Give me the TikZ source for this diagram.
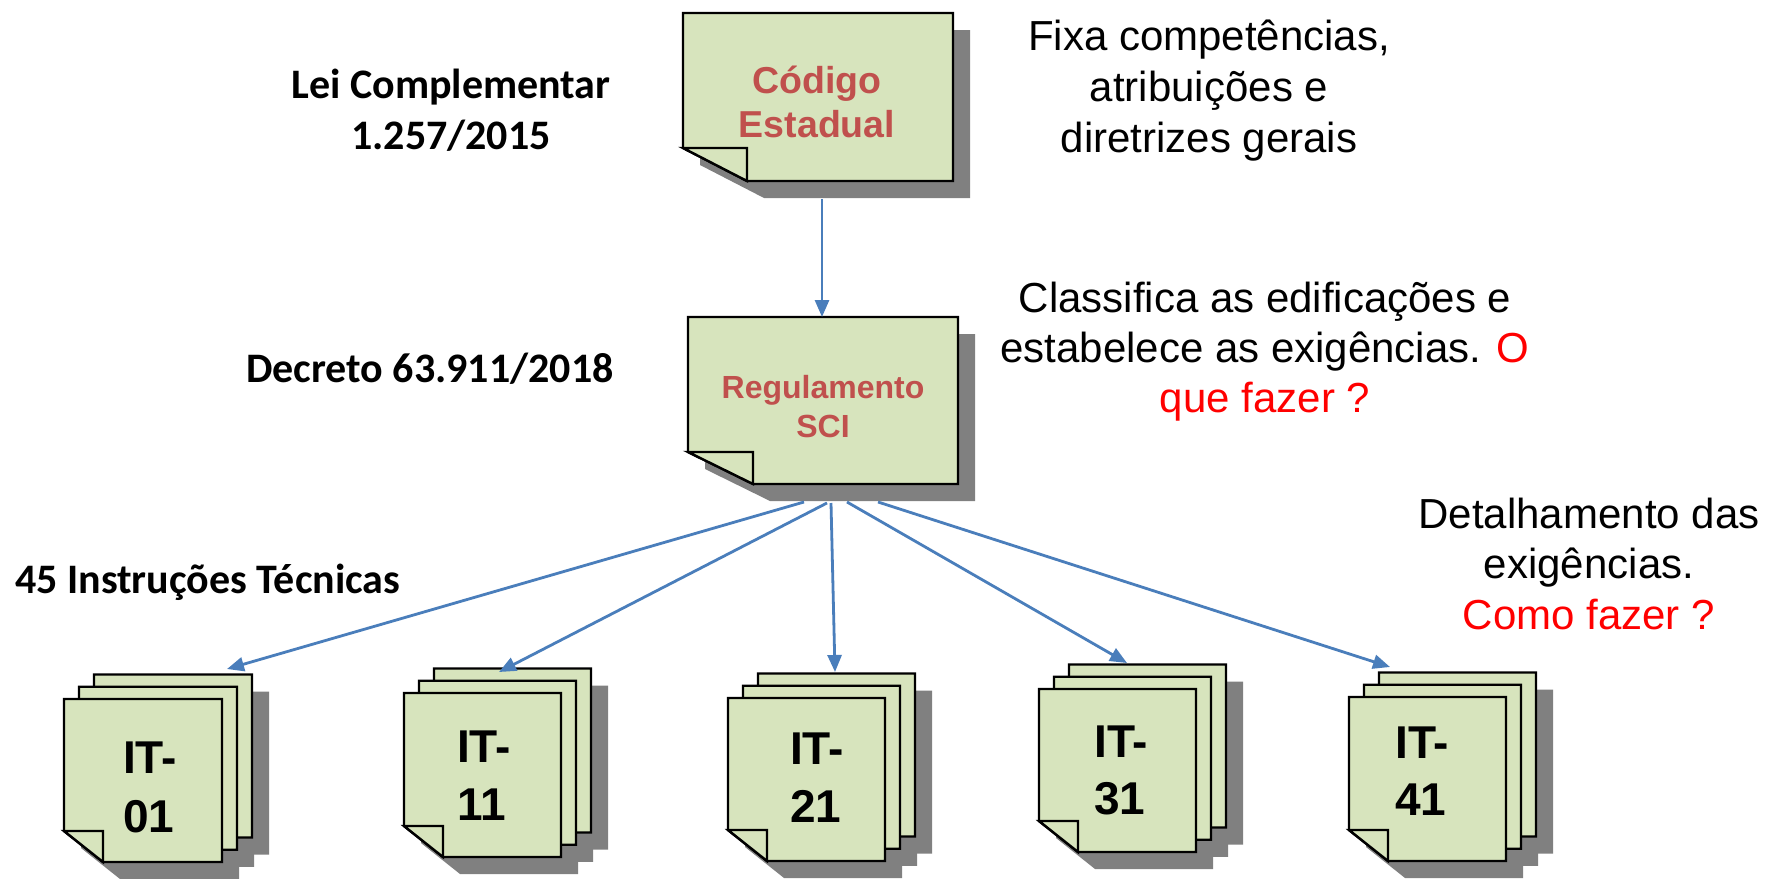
\documentclass[tikz,border=0pt]{standalone}
\usepackage{fontspec}
\setmainfont{Liberation Sans}
\newfontfamily\calib{Carlito}
\usetikzlibrary{arrows.meta}
\definecolor{notegreen}{HTML}{D7E4BD}
\definecolor{shadegray}{HTML}{808080}
\definecolor{linkblue}{HTML}{4A7EBB}
\definecolor{titlered}{HTML}{C0504D}
\definecolor{hotred}{HTML}{FF0000}
% L T R B foldwidth foldheight
\newcommand{\sheetshadow}[6]{%
  \fill[dropshade] ({#1+17},{#2+17}) -- ({#3+17},{#2+17}) -- ({#3+17},{#4+17}) -- ({#1+#5+17},{#4+17}) -- ({#1+17},{#4-#6+17}) -- cycle;}
\newcommand{\sheetbody}[6]{%
  \filldraw[notesheet] ({#1},{#2}) -- ({#3},{#2}) -- ({#3},{#4}) -- ({#1+#5},{#4}) -- ({#1},{#4-#6}) -- cycle;
  \filldraw[notesheet] ({#1},{#4-#6}) -- ({#1+#5},{#4-#6}) -- ({#1+#5},{#4}) -- cycle;}
% L T W H of the front sheet
\newcommand{\itstack}[4]{%
  \foreach \k in {0,1,2}{\sheetshadow{#1+15*\k}{#2-12.25*\k}{#1+15*\k+#3}{#2-12.25*\k+#4}{39}{31}}
  \foreach \k in {2,1,0}{\sheetbody{#1+15*\k}{#2-12.25*\k}{#1+15*\k+#3}{#2-12.25*\k+#4}{39}{31}}}
\begin{document}
\begin{tikzpicture}[x=1pt,y=-1pt,
  notesheet/.style={fill=notegreen, draw=black, line width=2.4pt, line join=miter},
  dropshade/.style={fill=shadegray},
  link/.style={draw=linkblue, line width=2.8pt, -{Triangle[length=17pt,width=14pt]}},
  lbl/.style={font={\calib\bfseries\fontsize{42}{50}\selectfont}, inner sep=0pt},
  note/.style={font={\fontsize{42}{50}\selectfont}, inner sep=0pt, anchor=base},
  boxtxt/.style={text=titlered, inner sep=0pt, anchor=base},
  ittxt/.style={font={\bfseries\fontsize{46}{54}\selectfont}, inner sep=0pt, anchor=base west}]
\useasboundingbox (0,0) rectangle (1769,878);
\fill[white] (0,0) rectangle (1769,878);

% top boxes
\sheetshadow{683}{13}{953}{181}{64}{33}
\sheetbody{683}{13}{953}{181}{64}{33}
\sheetshadow{688}{317}{958}{484}{65}{32}
\sheetbody{688}{317}{958}{484}{65}{32}

% IT stacks
\itstack{64}{699}{158}{163}
\itstack{404}{693}{157}{164}
\itstack{728}{698}{157}{163}
\itstack{1039}{689}{157}{163}
\itstack{1349}{697}{157}{164}

% box texts
\node[boxtxt, font={\bfseries\fontsize{37.5}{44}\selectfont}] (codigo1) at (817,93) {Código};
\node[boxtxt, font={\bfseries\fontsize{37.5}{44}\selectfont}] (codigo2) at (817,137) {Estadual};
\node[boxtxt, font={\bfseries\fontsize{32}{38}\selectfont}] (regul1) at (823,398) {Regulamento};
\node[boxtxt, font={\bfseries\fontsize{32}{38}\selectfont}] (regul2) at (823,437) {SCI};

\node[ittxt] (it01a) at (123,773) {IT-};
\node[ittxt] (it01b) at (123,832) {01};
\node[ittxt] (it11a) at (457,762) {IT-};
\node[ittxt] (it11b) at (457,820) {11};
\node[ittxt] (it21a) at (790,764) {IT-};
\node[ittxt] (it21b) at (790,822) {21};
\node[ittxt] (it31a) at (1094,757) {IT-};
\node[ittxt] (it31b) at (1094,814) {31};
\node[ittxt] (it41a) at (1395,758) {IT-};
\node[ittxt] (it41b) at (1395,815) {41};

% left labels
\node[lbl, anchor=base] (lei1) at (451,98) {Lei Complementar};
\node[lbl, anchor=base] (lei2) at (451,149) {1.257/2015};
\node[lbl, anchor=base east] (decreto) at (614,382) {Decreto 63.911/2018};
\node[lbl, anchor=base west] (its) at (15,593) {45 Instruções Técnicas};

% right notes
\node[note] (fixa1) at (1209,50) {Fixa competências,};
\node[note] (fixa2) at (1209,101) {atribuições e};
\node[note] (fixa3) at (1209,152) {diretrizes gerais};
\node[note] (clas1) at (1265,312) {Classifica as edificações e};
\node[note] (clas2) at (1265,362) {estabelece as exigências. \textcolor{hotred}{O}};
\node[note, text=hotred] (clas3) at (1265,412) {que fazer ?};
\node[note] (det1) at (1589,528) {Detalhamento das};
\node[note] (det2) at (1589,578) {exigências.};
\node[note, text=hotred] (det3) at (1589,629) {Como fazer ?};

% connector end points
\coordinate (codout) at (822,199);
\coordinate (regin) at (822,317);
\coordinate (regout1) at (804,502);
\coordinate (regout2) at (827,503);
\coordinate (regout3) at (831,503);
\coordinate (regout4) at (847,502);
\coordinate (regout5) at (878,502);
\coordinate (in01) at (227,669);
\coordinate (in11) at (499,672);
\coordinate (in21) at (835,672);
\coordinate (in31) at (1127,663);
\coordinate (in41) at (1390,667);

\draw[link] (codout) -- (regin);
\draw[link] (regout1) -- (in01);
\draw[link] (regout2) -- (in11);
\draw[link] (regout3) -- (in21);
\draw[link] (regout4) -- (in31);
\draw[link] (regout5) -- (in41);
\end{tikzpicture}
\end{document}
